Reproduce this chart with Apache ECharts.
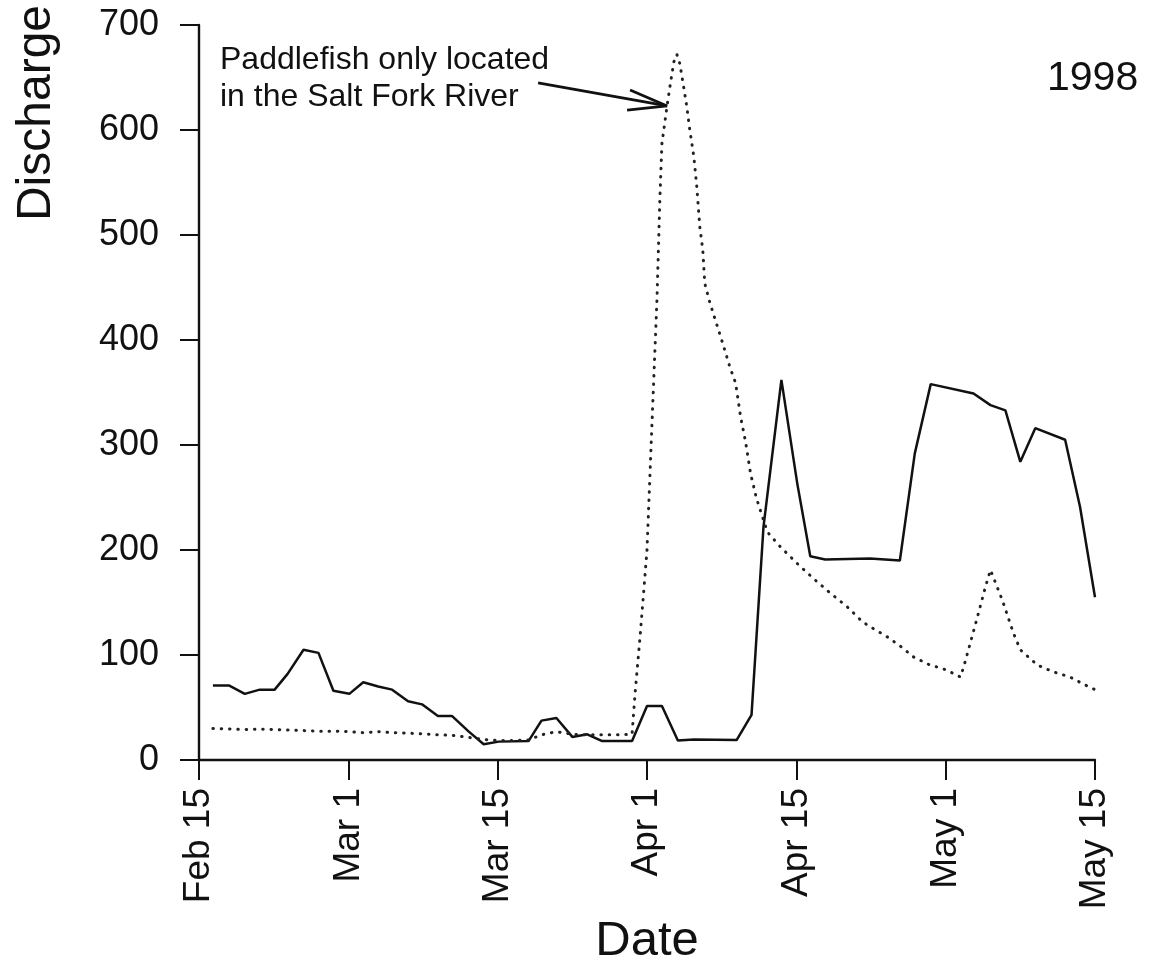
<!DOCTYPE html>
<html>
<head>
<meta charset="utf-8">
<script src="https://cdn.jsdelivr.net/npm/echarts@6/dist/echarts.min.js"></script>
<style>
  html, body { margin: 0; padding: 0; background: #fff; }
  #main { width: 1150px; height: 971px; }
</style>
</head>
<body>
<div id="main"></div>
<script>
// x 轴刻度 (每 15 个单位一个刻度, Feb 15 = 0)
var tickLabels = ['Feb 15', 'Mar 1', 'Mar 15', 'Apr 1', 'Apr 15', 'May 1', 'May 15']

// 实线
var solidDay = [1.4, 3.0, 4.6, 6.1, 7.6, 8.9, 10.5, 12.0, 13.5, 15.1, 16.5, 18.0, 19.4, 21.0, 22.4, 24.0, 25.4, 27.1, 28.6, 30.1,
    33.1, 34.4, 35.9, 37.5, 39.0, 40.5, 43.5, 45.0, 46.5, 48.1, 49.7, 54.0, 55.5, 56.7, 58.5, 60.1, 61.4, 62.9, 67.4, 70.4,
    71.9, 73.5, 77.8, 79.5, 81.0, 82.5, 84.0, 87.0, 88.5, 90.0]
var solidQ = [71, 71, 63, 67, 67, 82, 105, 102, 66, 63, 74, 70, 67, 56, 53, 42, 42, 27, 15, 17.5,
    18, 37.5, 40, 22, 24.5, 18, 18, 51.5, 51.5, 18.5, 19.5, 19, 43, 222, 362, 263, 194, 191, 192, 190,
    292, 358, 349, 338, 333, 284, 316, 305, 241, 155]

// 点线
var dottedDay = [1.4, 3.0, 4.6, 6.1, 7.6, 9.0, 10.5, 12.0, 13.5, 15.1, 16.5, 18.0, 19.4, 21.0, 22.4, 24.0, 25.4, 27.1, 28.6, 30.1,
    31.6, 33.1, 34.4, 35.9, 37.5, 39.0, 40.5, 42.0, 43.5, 43.8, 44.3, 44.6, 45.0, 45.5, 46.0, 46.3, 46.5, 47.0, 47.3, 47.7,
    48.0, 48.3, 48.7, 49.0, 49.3, 49.7, 50.0, 50.3, 50.6, 50.8, 51.3, 51.8, 52.5, 53.3, 53.9, 54.4, 54.9, 55.4, 56.0, 57.1,
    58.4, 60.1, 61.7, 63.4, 65.1, 66.6, 67.4, 69.1, 70.8, 71.6, 73.3, 75.0, 76.5, 77.0, 78.1, 79.0, 79.5, 80.7, 81.8, 82.5,
    84.2, 85.8, 87.5, 89.0, 90.0]
var dottedQ = [30, 29.5, 29, 29.5, 29, 28.5, 28, 27.5, 27.5, 27, 26, 27, 26, 25.5, 25, 24, 23.5, 21.5, 19.5, 18.5,
    18.5, 19, 24, 27, 24.5, 24, 24, 24, 24.5, 63, 117, 152, 200, 320, 438, 536, 587, 622, 641, 665,
    672, 663, 640, 622, 600, 575, 546, 508, 486, 454, 436, 421, 400, 375, 359, 327, 303, 273, 249, 217,
    203, 187, 173, 159, 146, 132, 127, 117.5, 106, 99, 91, 86, 79, 95, 133, 165, 181, 152, 121, 105,
    90.5, 84, 79, 71.5, 67]

// 箭头 (起点, 尖端, 两翼)
var arrowStart = [34.06, 644.8]
var arrowTip = [47.02, 622.9]
var arrowWing1 = [43.3, 638.1]
var arrowWing2 = [43.0, 619.0]

var pairs = function(xs, ys) {
    return xs.map(function(x, i) { return [x, ys[i]] })
}

var font = 'Liberation Sans, Arial, sans-serif'
var myChart = echarts.init(document.querySelector('#main'))

option = {
    animation: false,
    backgroundColor: '#fff',
    grid: {
        left: 199,
        right: 55,
        top: 25,
        bottom: 211,
        outerBoundsMode: 'none'
    },
    xAxis: {
        type: 'value',
        min: 0,
        max: 90,
        interval: 15,
        name: 'Date',
        nameLocation: 'middle',
        nameGap: 143,
        nameTextStyle: { fontSize: 49, color: '#111', fontFamily: font },
        axisLine: { lineStyle: { color: '#111', width: 2.4 } },
        axisTick: { length: 20, lineStyle: { color: '#111', width: 2 } },
        axisLabel: {
            rotate: 90,
            margin: 28,
            fontSize: 37,
            color: '#111',
            fontFamily: font,
            formatter: function(v) { return tickLabels[Math.round(v / 15)] }
        },
        splitLine: { show: false }
    },
    yAxis: {
        type: 'value',
        min: 0,
        max: 700,
        interval: 100,
        axisLine: { show: true, lineStyle: { color: '#111', width: 2.4 } },
        axisTick: { show: true, length: 19, lineStyle: { color: '#111', width: 2 } },
        axisLabel: { margin: 40, fontSize: 36, color: '#111', fontFamily: font },
        splitLine: { show: false }
    },
    graphic: [
        {
            type: 'text', x: 37, y: 113, rotation: Math.PI / 2,
            style: { text: 'Discharge', fontSize: 48, fill: '#111', fontFamily: font, align: 'center', verticalAlign: 'middle' }
        },
        {
            type: 'text', left: 220, top: 42,
            style: { text: 'Paddlefish only located\nin the Salt Fork River', fontSize: 32, lineHeight: 37, fill: '#111', fontFamily: font }
        },
        {
            type: 'text', left: 1047, top: 58,
            style: { text: '1998', fontSize: 41, fill: '#111', fontFamily: font }
        }
    ],
    series: [
        {
            name: 'solid',
            type: 'line',
            symbol: 'none',
            data: pairs(solidDay, solidQ),
            lineStyle: { color: '#111', width: 2.5 }
        },
        {
            name: 'dotted',
            type: 'line',
            symbol: 'none',
            data: pairs(dottedDay, dottedQ),
            lineStyle: { color: '#222', width: 3, type: [0.5, 7.8], cap: 'round' },
            markLine: {
                silent: true,
                symbol: ['none', 'none'],
                label: { show: false },
                lineStyle: { type: 'solid', color: '#111', width: 2.8 },
                data: [
                    [{ coord: arrowStart }, { coord: arrowTip }],
                    [{ coord: arrowWing1 }, { coord: arrowTip }],
                    [{ coord: arrowWing2 }, { coord: arrowTip }]
                ]
            }
        }
    ]
};

myChart.setOption(option);
</script>
</body>
</html>
